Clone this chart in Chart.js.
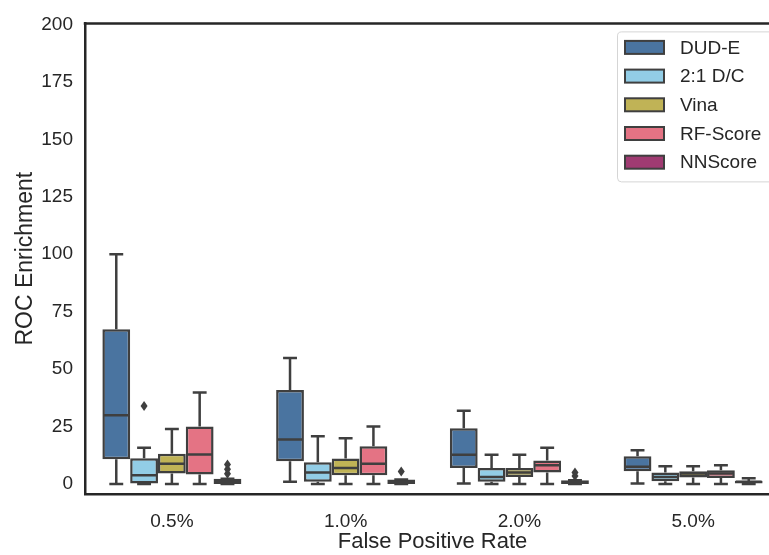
<!DOCTYPE html>
<html>
<head>
<meta charset="utf-8">
<script src="https://cdn.jsdelivr.net/npm/chart.js@4.4.1/dist/chart.umd.min.js"></script>
<style>
  html, body { margin: 0; padding: 0; background: #fff; overflow: hidden; }
  #wrap { width: 790px; height: 555px; }
</style>
</head>
<body>
<div id="wrap"><canvas id="roc"></canvas></div>
<script>
// categories on the x axis
const categories = ['0.5%', '1.0%', '2.0%', '5.0%'];
const seriesNames = ['DUD-E', '2:1 D/C', 'Vina', 'RF-Score', 'NNScore'];
const seriesColors = ['#4a74a0', '#92cde6', '#c0b356', '#e47384', '#a03b72'];
const yTicks = [0, 25, 50, 75, 100, 125, 150, 175, 200];

// box stats per category: [min, q1, median, q3, max]
const dudeStats = [[0, 10.8, 30, 67.4, 100], [1, 9.9, 19.4, 40.9, 54.9], [0.3, 7, 12.8, 24.3, 31.9], [0.3, 5.6, 7.5, 12.1, 14.7]];
const dcStats = [[0, 0.3, 3.9, 11.3, 15.8], [0, 1, 5, 9.5, 20.8], [0, 1, 3.1, 7, 12.8], [0, 1.3, 3.1, 5, 7.8]];
const vinaStats = [[0, 4.6, 8.9, 13.2, 24], [0, 3.9, 7, 11.1, 20], [0, 3.1, 5, 7, 12.8], [0, 2.9, 4.6, 5.6, 7.8]];
const rfStats = [[0, 4.2, 12.9, 25.1, 39.8], [0, 3.9, 8.9, 16.5, 25.1], [0, 5, 8.2, 10.3, 15.8], [0, 2.7, 4.6, 6, 8.2]];
const nnStats = [[0, 0, 0.8, 2.3, 2.3], [0, 0, 0.8, 2, 2], [0, 0, 0.6, 1.7, 1.7], [0, 0.3, 1, 1.5, 2.5]];

// outliers per category
const dudeOutliers = [[], [], [], []];
const dcOutliers = [[34], [], [], []];
const vinaOutliers = [[], [], [], []];
const rfOutliers = [[], [], [], []];
const nnOutliers = [[4.5, 6.5, 8.5], [5.5], [3.5, 5], []];

const allStats = [dudeStats, dcStats, vinaStats, rfStats, nnStats];
const allOutliers = [dudeOutliers, dcOutliers, vinaOutliers, rfOutliers, nnOutliers];

const FONT = "'Liberation Sans', Arial, sans-serif";
const INK = '#262626';
const EDGE = '#3f3f3f';

// whiskers, medians and fliers drawn on top of the floating bars
const boxExtras = {
  id: 'boxExtras',
  afterDatasetsDraw(chart) {
    const ctx = chart.ctx;
    const y = chart.scales.y;
    ctx.save();
    ctx.strokeStyle = EDGE;
    ctx.fillStyle = EDGE;
    ctx.lineWidth = 2.5;
    chart.data.datasets.forEach((ds, i) => {
      const meta = chart.getDatasetMeta(i);
      meta.data.forEach((bar, j) => {
        const s = allStats[i][j];
        const x = bar.x, w = bar.width;
        const pMin = y.getPixelForValue(s[0]);
        const pQ1 = y.getPixelForValue(s[1]);
        const pMed = y.getPixelForValue(s[2]);
        const pQ3 = y.getPixelForValue(s[3]);
        const pMax = y.getPixelForValue(s[4]);
        ctx.beginPath();
        // upper whisker + cap
        ctx.moveTo(x, pQ3); ctx.lineTo(x, pMax);
        ctx.moveTo(x - w / 4, pMax); ctx.lineTo(x + w / 4, pMax);
        // lower whisker + cap
        ctx.moveTo(x, pQ1); ctx.lineTo(x, pMin);
        ctx.moveTo(x - w / 4, pMin); ctx.lineTo(x + w / 4, pMin);
        // median
        ctx.moveTo(x - w / 2 + 1, pMed); ctx.lineTo(x + w / 2 - 1, pMed);
        ctx.stroke();
        allOutliers[i][j].forEach(v => {
          const py = y.getPixelForValue(v);
          ctx.beginPath();
          ctx.moveTo(x, py - 5);
          ctx.lineTo(x + 3.5, py);
          ctx.lineTo(x, py + 5);
          ctx.lineTo(x - 3.5, py);
          ctx.closePath();
          ctx.fill();
        });
      });
    });
    ctx.restore();
  },
  afterDraw(chart) {
    const ctx = chart.ctx;
    const a = chart.chartArea;
    ctx.save();
    // top frame line
    ctx.strokeStyle = INK;
    ctx.lineWidth = 2.5;
    ctx.beginPath();
    ctx.moveTo(a.left - 1.25, a.top);
    ctx.lineTo(a.right, a.top);
    ctx.stroke();

    // legend box
    const bx = a.right - 163, by = a.top + 8, bw = 158, bh = 150;
    ctx.fillStyle = 'rgba(255,255,255,0.85)';
    ctx.strokeStyle = '#d5d5d5';
    ctx.lineWidth = 1;
    ctx.beginPath();
    ctx.roundRect(bx + 0.5, by + 0.5, bw, bh, 4);
    ctx.fill();
    ctx.stroke();
    ctx.font = '19px ' + FONT;
    ctx.textBaseline = 'middle';
    ctx.textAlign = 'left';
    seriesNames.forEach((name, i) => {
      const cy = by + 16 + i * 28.7;
      ctx.fillStyle = seriesColors[i];
      ctx.fillRect(bx + 8, cy - 6.5, 39, 13);
      ctx.strokeStyle = EDGE;
      ctx.lineWidth = 2;
      ctx.strokeRect(bx + 8, cy - 6.5, 39, 13);
      ctx.fillStyle = INK;
      ctx.fillText(name, bx + 63, cy + 1);
    });
    ctx.restore();
  }
};

const datasets = seriesNames.map((name, i) => ({
  label: name,
  data: allStats[i].map(s => [s[1], s[3]]),
  backgroundColor: seriesColors[i],
  borderColor: EDGE,
  borderWidth: 2.5,
  borderSkipped: false,
  categoryPercentage: 0.8,
  barPercentage: 1.0
}));

new Chart(document.getElementById('roc'), {
  type: 'bar',
  data: { labels: categories, datasets: datasets },
  plugins: [boxExtras],
  options: {
    responsive: true,
    maintainAspectRatio: false,
    animation: false,
    layout: { padding: { top: 20, right: 10, left: 0, bottom: 0 } },
    plugins: {
      legend: { display: false },
      tooltip: { enabled: false }
    },
    scales: {
      x: {
        grid: { display: false, drawTicks: false },
        border: { display: true, color: INK, width: 2.5 },
        ticks: { color: INK, padding: 16, font: { family: FONT, size: 19 } },
        title: {
          display: true, text: 'False Positive Rate', color: INK,
          font: { family: FONT, size: 22 }, padding: { top: 0, bottom: 0 }
        },
        afterFit(scale) { scale.height = 61; }
      },
      y: {
        min: -4.3,
        max: 200.4,
        grid: { display: false, drawTicks: false },
        border: { display: true, color: INK, width: 2.5 },
        afterBuildTicks(scale) { scale.ticks = yTicks.map(v => ({ value: v })); },
        ticks: { color: INK, padding: 12, font: { family: FONT, size: 19 } },
        title: {
          display: true, text: 'ROC Enrichment', color: INK,
          font: { family: FONT, size: 23 }, padding: { top: 12, bottom: 0 }
        },
        afterFit(scale) { scale.width = 85; }
      }
    }
  }
});
</script>
</body>
</html>
